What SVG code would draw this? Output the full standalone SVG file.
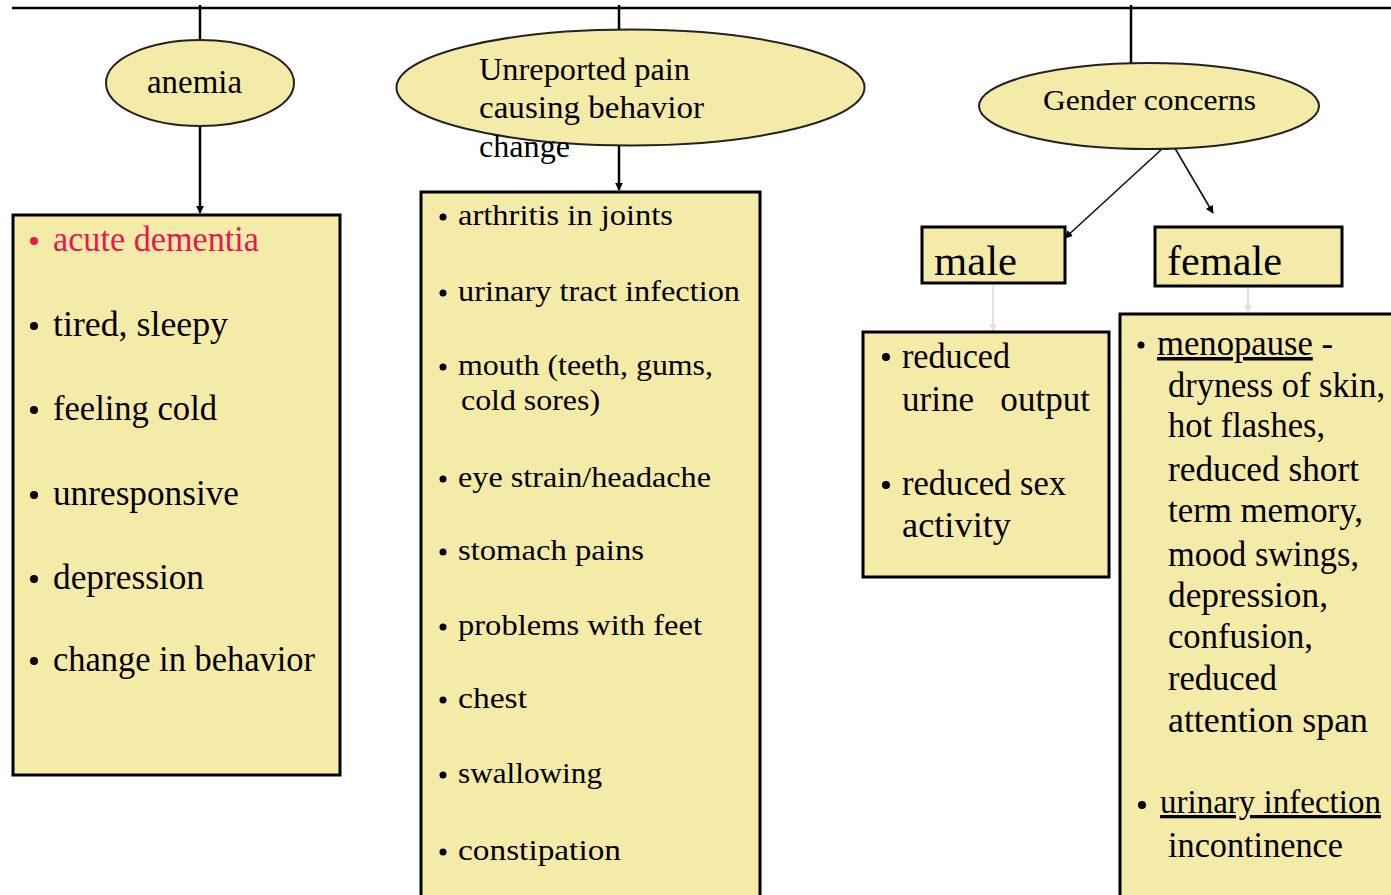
<svg xmlns="http://www.w3.org/2000/svg" width="1391" height="895" viewBox="0 0 1391 895">
<defs>
<marker id="ah" viewBox="0 0 10 10" refX="9" refY="5" markerWidth="8" markerHeight="8" markerUnits="userSpaceOnUse" orient="auto"><path d="M0,0 L10,5 L0,10 z" fill="#000"/></marker>
<marker id="ahl" viewBox="0 0 10 10" refX="9" refY="5" markerWidth="8" markerHeight="8" markerUnits="userSpaceOnUse" orient="auto"><path d="M0,0 L10,5 L0,10 z" fill="#E6E2D4"/></marker>
</defs>
<style>
.ell{fill:#F5EBA9;stroke:#222;stroke-width:2}
.box{fill:#F5EBA9;stroke:#000;stroke-width:3}
.t{font-family:"Liberation Serif","Times New Roman",serif;fill:#000}
.big{font-size:35px}
.mid{font-size:29px}
.red{fill:#E8174F}
.con{stroke:#000;stroke-width:2.5;fill:none}
.thin{stroke:#111;stroke-width:1.6;fill:none}
.faint{stroke:#E6E2D4;stroke-width:2;fill:none}
</style>
<rect width="1391" height="895" fill="#fff"/>
<g id="connectors">
<line x1="12" y1="8" x2="1391" y2="8" class="con"/>
<line x1="200" y1="5" x2="200" y2="40" class="con"/>
<line x1="200" y1="126" x2="200" y2="213" class="con" marker-end="url(#ah)"/>
<line x1="619" y1="5" x2="619" y2="29" class="con"/>
<line x1="619" y1="146" x2="619" y2="190" class="con" marker-end="url(#ah)"/>
<line x1="1131" y1="5" x2="1131" y2="63" class="con"/>
<line x1="1162" y1="149" x2="1065" y2="238" class="thin" marker-end="url(#ah)"/>
<line x1="1166" y1="133" x2="1213" y2="213" class="thin" marker-end="url(#ah)"/>
<line x1="993" y1="285" x2="993" y2="331" class="faint" marker-end="url(#ahl)"/>
<line x1="1248" y1="287" x2="1248" y2="312" class="faint" marker-end="url(#ahl)"/>
</g>
<g id="anemia">
<ellipse cx="200" cy="83" rx="94" ry="43" class="ell"/>
<text x="147" y="93" class="t" font-size="33" textLength="95" lengthAdjust="spacingAndGlyphs">anemia</text>
</g>
<g id="unreported">
<ellipse cx="630.5" cy="87.5" rx="234" ry="58" class="ell"/>
<g class="t" font-size="31">
<text x="479" y="80" textLength="211" lengthAdjust="spacingAndGlyphs">Unreported pain</text>
<text x="479" y="118" textLength="225" lengthAdjust="spacingAndGlyphs">causing behavior</text>
<text x="479" y="157" textLength="91" lengthAdjust="spacingAndGlyphs">change</text>
</g>
</g>
<g id="gender">
<ellipse cx="1149" cy="106" rx="170" ry="43" class="ell"/>
<text x="1043" y="110" class="t" font-size="30" textLength="213" lengthAdjust="spacingAndGlyphs">Gender concerns</text>
</g>
<g id="anemia-list">
<rect x="13" y="215" width="327" height="560" class="box"/>
<circle cx="34" cy="241" r="4" class="red"/>
<circle cx="34" cy="326" r="4"/>
<circle cx="34" cy="410" r="4"/>
<circle cx="34" cy="495" r="4"/>
<circle cx="34" cy="579" r="4"/>
<circle cx="34" cy="661" r="4"/>
<g class="t big">
<text x="53" y="251" class="red" textLength="206" lengthAdjust="spacingAndGlyphs">acute dementia</text>
<text x="53" y="336" textLength="175" lengthAdjust="spacingAndGlyphs">tired, sleepy</text>
<text x="53" y="420" textLength="164" lengthAdjust="spacingAndGlyphs">feeling cold</text>
<text x="53" y="505" textLength="186" lengthAdjust="spacingAndGlyphs">unresponsive</text>
<text x="53" y="589" textLength="151" lengthAdjust="spacingAndGlyphs">depression</text>
<text x="53" y="671" textLength="262" lengthAdjust="spacingAndGlyphs">change in behavior</text>
</g>
</g>
<g id="pain-list">
<rect x="421" y="192" width="339" height="720" class="box"/>
<circle cx="443" cy="217" r="3.5"/>
<circle cx="443" cy="293" r="3.5"/>
<circle cx="443" cy="367" r="3.5"/>
<circle cx="443" cy="479" r="3.5"/>
<circle cx="443" cy="552" r="3.5"/>
<circle cx="443" cy="627" r="3.5"/>
<circle cx="443" cy="700" r="3.5"/>
<circle cx="443" cy="775" r="3.5"/>
<circle cx="443" cy="852" r="3.5"/>
<g class="t mid">
<text x="458" y="225" textLength="215" lengthAdjust="spacingAndGlyphs">arthritis in joints</text>
<text x="458" y="301" textLength="282" lengthAdjust="spacingAndGlyphs">urinary tract infection</text>
<text x="458" y="375" textLength="255" lengthAdjust="spacingAndGlyphs">mouth (teeth, gums,</text>
<text x="461" y="410" textLength="139" lengthAdjust="spacingAndGlyphs">cold sores)</text>
<text x="458" y="487" textLength="253" lengthAdjust="spacingAndGlyphs">eye strain/headache</text>
<text x="458" y="560" textLength="186" lengthAdjust="spacingAndGlyphs">stomach pains</text>
<text x="458" y="635" textLength="244" lengthAdjust="spacingAndGlyphs">problems with feet</text>
<text x="458" y="708" textLength="69" lengthAdjust="spacingAndGlyphs">chest</text>
<text x="458" y="783" textLength="144" lengthAdjust="spacingAndGlyphs">swallowing</text>
<text x="458" y="860" textLength="163" lengthAdjust="spacingAndGlyphs">constipation</text>
</g>
</g>
<g id="male">
<rect x="922" y="227" width="143" height="56" class="box"/>
<text x="934" y="275" class="t" font-size="42" textLength="83" lengthAdjust="spacingAndGlyphs">male</text>
</g>
<g id="female">
<rect x="1155" y="227" width="187" height="59" class="box"/>
<text x="1167" y="275" class="t" font-size="42" textLength="115" lengthAdjust="spacingAndGlyphs">female</text>
</g>
<g id="male-list">
<rect x="863" y="332" width="246" height="245" class="box"/>
<circle cx="886" cy="357" r="4"/>
<circle cx="886" cy="485" r="4"/>
<g class="t big">
<text x="902" y="368" textLength="108" lengthAdjust="spacingAndGlyphs">reduced</text>
<text x="902" y="411" textLength="188" lengthAdjust="spacingAndGlyphs" xml:space="preserve">urine   output</text>
<text x="902" y="495" textLength="164" lengthAdjust="spacingAndGlyphs">reduced sex</text>
<text x="902" y="537" textLength="109" lengthAdjust="spacingAndGlyphs">activity</text>
</g>
</g>
<g id="female-list">
<rect x="1120" y="314" width="300" height="600" class="box"/>
<circle cx="1141" cy="345" r="3.5"/>
<circle cx="1142" cy="805" r="4"/>
<g class="t big">
<text x="1157" y="355" textLength="176" lengthAdjust="spacingAndGlyphs"><tspan text-decoration="underline">menopause</tspan> -</text>
<text x="1168" y="397" textLength="217" lengthAdjust="spacingAndGlyphs">dryness of skin,</text>
<text x="1168" y="437" textLength="157" lengthAdjust="spacingAndGlyphs">hot flashes,</text>
<text x="1168" y="481" textLength="191" lengthAdjust="spacingAndGlyphs">reduced short</text>
<text x="1168" y="522" textLength="195" lengthAdjust="spacingAndGlyphs">term memory,</text>
<text x="1168" y="566" textLength="191" lengthAdjust="spacingAndGlyphs">mood swings,</text>
<text x="1168" y="607" textLength="160" lengthAdjust="spacingAndGlyphs">depression,</text>
<text x="1168" y="648" textLength="145" lengthAdjust="spacingAndGlyphs">confusion,</text>
<text x="1168" y="690" textLength="109" lengthAdjust="spacingAndGlyphs">reduced</text>
<text x="1168" y="732" textLength="200" lengthAdjust="spacingAndGlyphs">attention span</text>
<text x="1160" y="813" font-size="33" text-decoration="underline" textLength="221" lengthAdjust="spacingAndGlyphs">urinary infection</text>
<text x="1168" y="857" textLength="175" lengthAdjust="spacingAndGlyphs">incontinence</text>
</g>
</g>
</svg>
